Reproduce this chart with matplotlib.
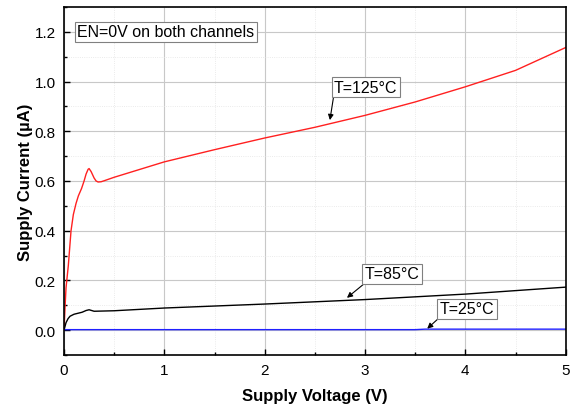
import numpy as np
import matplotlib.pyplot as plt
from matplotlib.ticker import MultipleLocator

plt.rcParams['font.family'] = ['Liberation Sans', 'DejaVu Sans']

# T=125C curve
v_125 = [0.0, 0.01, 0.02, 0.043, 0.07, 0.093, 0.12, 0.143, 0.175, 0.2, 0.22, 0.24, 0.25,
         0.27, 0.3, 0.32, 0.34, 0.37, 0.4, 0.5,
         1.0, 1.5, 2.0, 2.5, 3.0, 3.5, 4.0, 4.5, 5.0]
i_125 = [0.0, 0.09, 0.17, 0.26, 0.4, 0.465, 0.51, 0.54, 0.57, 0.6, 0.628, 0.647, 0.65,
         0.638, 0.612, 0.6, 0.596, 0.597, 0.601, 0.615,
         0.677, 0.726, 0.773, 0.816, 0.864, 0.918, 0.979, 1.045, 1.137]

# T=85C curve
v_85 = [0.0, 0.02, 0.04, 0.06, 0.1, 0.18, 0.22, 0.25, 0.3, 0.5, 1.0, 2.0, 3.0, 4.0, 5.0]
i_85 = [0.0, 0.03, 0.046, 0.056, 0.064, 0.072, 0.079, 0.082, 0.076, 0.078, 0.089, 0.105, 0.123, 0.145, 0.173]

# T=25C curve
v_25 = [0.0, 1.0, 2.0, 3.0, 3.5, 3.6, 4.0, 5.0]
i_25 = [0.002, 0.002, 0.002, 0.002, 0.002, 0.004, 0.004, 0.004]

fig = plt.figure(figsize=(5.71, 4.10), dpi=100)
ax = fig.add_axes([0.1121, 0.1317, 0.8786, 0.8488])

ax.plot(v_125, i_125, color='#ff2020', lw=1.0)
ax.plot(v_85, i_85, color='black', lw=1.0)
ax.plot(v_25, i_25, color='#2020ff', lw=1.0)

ax.set_xlim(0, 5)
ax.set_ylim(-0.1, 1.3)
ax.xaxis.set_major_locator(MultipleLocator(1))
ax.xaxis.set_minor_locator(MultipleLocator(0.5))
ax.yaxis.set_minor_locator(MultipleLocator(0.1))
ax.set_yticks([0.0, 0.2, 0.4, 0.6, 0.8, 1.0, 1.2])

ax.grid(which='major', color='#c8c8c8', lw=0.8)
ax.grid(which='minor', color='#e4e4e4', lw=0.6, ls=':')
ax.set_axisbelow(True)

ax.tick_params(which='major', direction='in', length=4, width=1, labelsize=11, pad=6)
ax.tick_params(which='minor', direction='in', length=2.5, width=1)
for s in ax.spines.values():
    s.set_linewidth(1.2)

ax.set_xlabel('Supply Voltage (V)', fontsize=12, fontweight='bold', labelpad=8)
ax.set_ylabel('Supply Current (µA)', fontsize=12, fontweight='bold', labelpad=1)

box = dict(boxstyle='square,pad=0.15', fc='white', ec='#808080', lw=0.8)
ax.text(0.13, 1.2, 'EN=0V on both channels', fontsize=11.5, va='center', ha='left', bbox=box)

def arrow(rx):
    return dict(arrowstyle='-|>', color='black', lw=0.8, mutation_scale=8,
                shrinkA=0, shrinkB=0, relpos=(rx, 0))

ax.annotate('T=125°C', xy=(2.65, 0.845), xytext=(2.69, 0.978), fontsize=11.5,
            ha='left', va='center', bbox=box, arrowprops=arrow(0.0))
ax.annotate('T=85°C', xy=(2.82, 0.13), xytext=(2.995, 0.227), fontsize=11.5,
            ha='left', va='center', bbox=box, arrowprops=arrow(0.05))
ax.annotate('T=25°C', xy=(3.62, 0.006), xytext=(3.745, 0.086), fontsize=11.5,
            ha='left', va='center', bbox=box, arrowprops=arrow(0.02))

fig.savefig('out.png', dpi=100)
